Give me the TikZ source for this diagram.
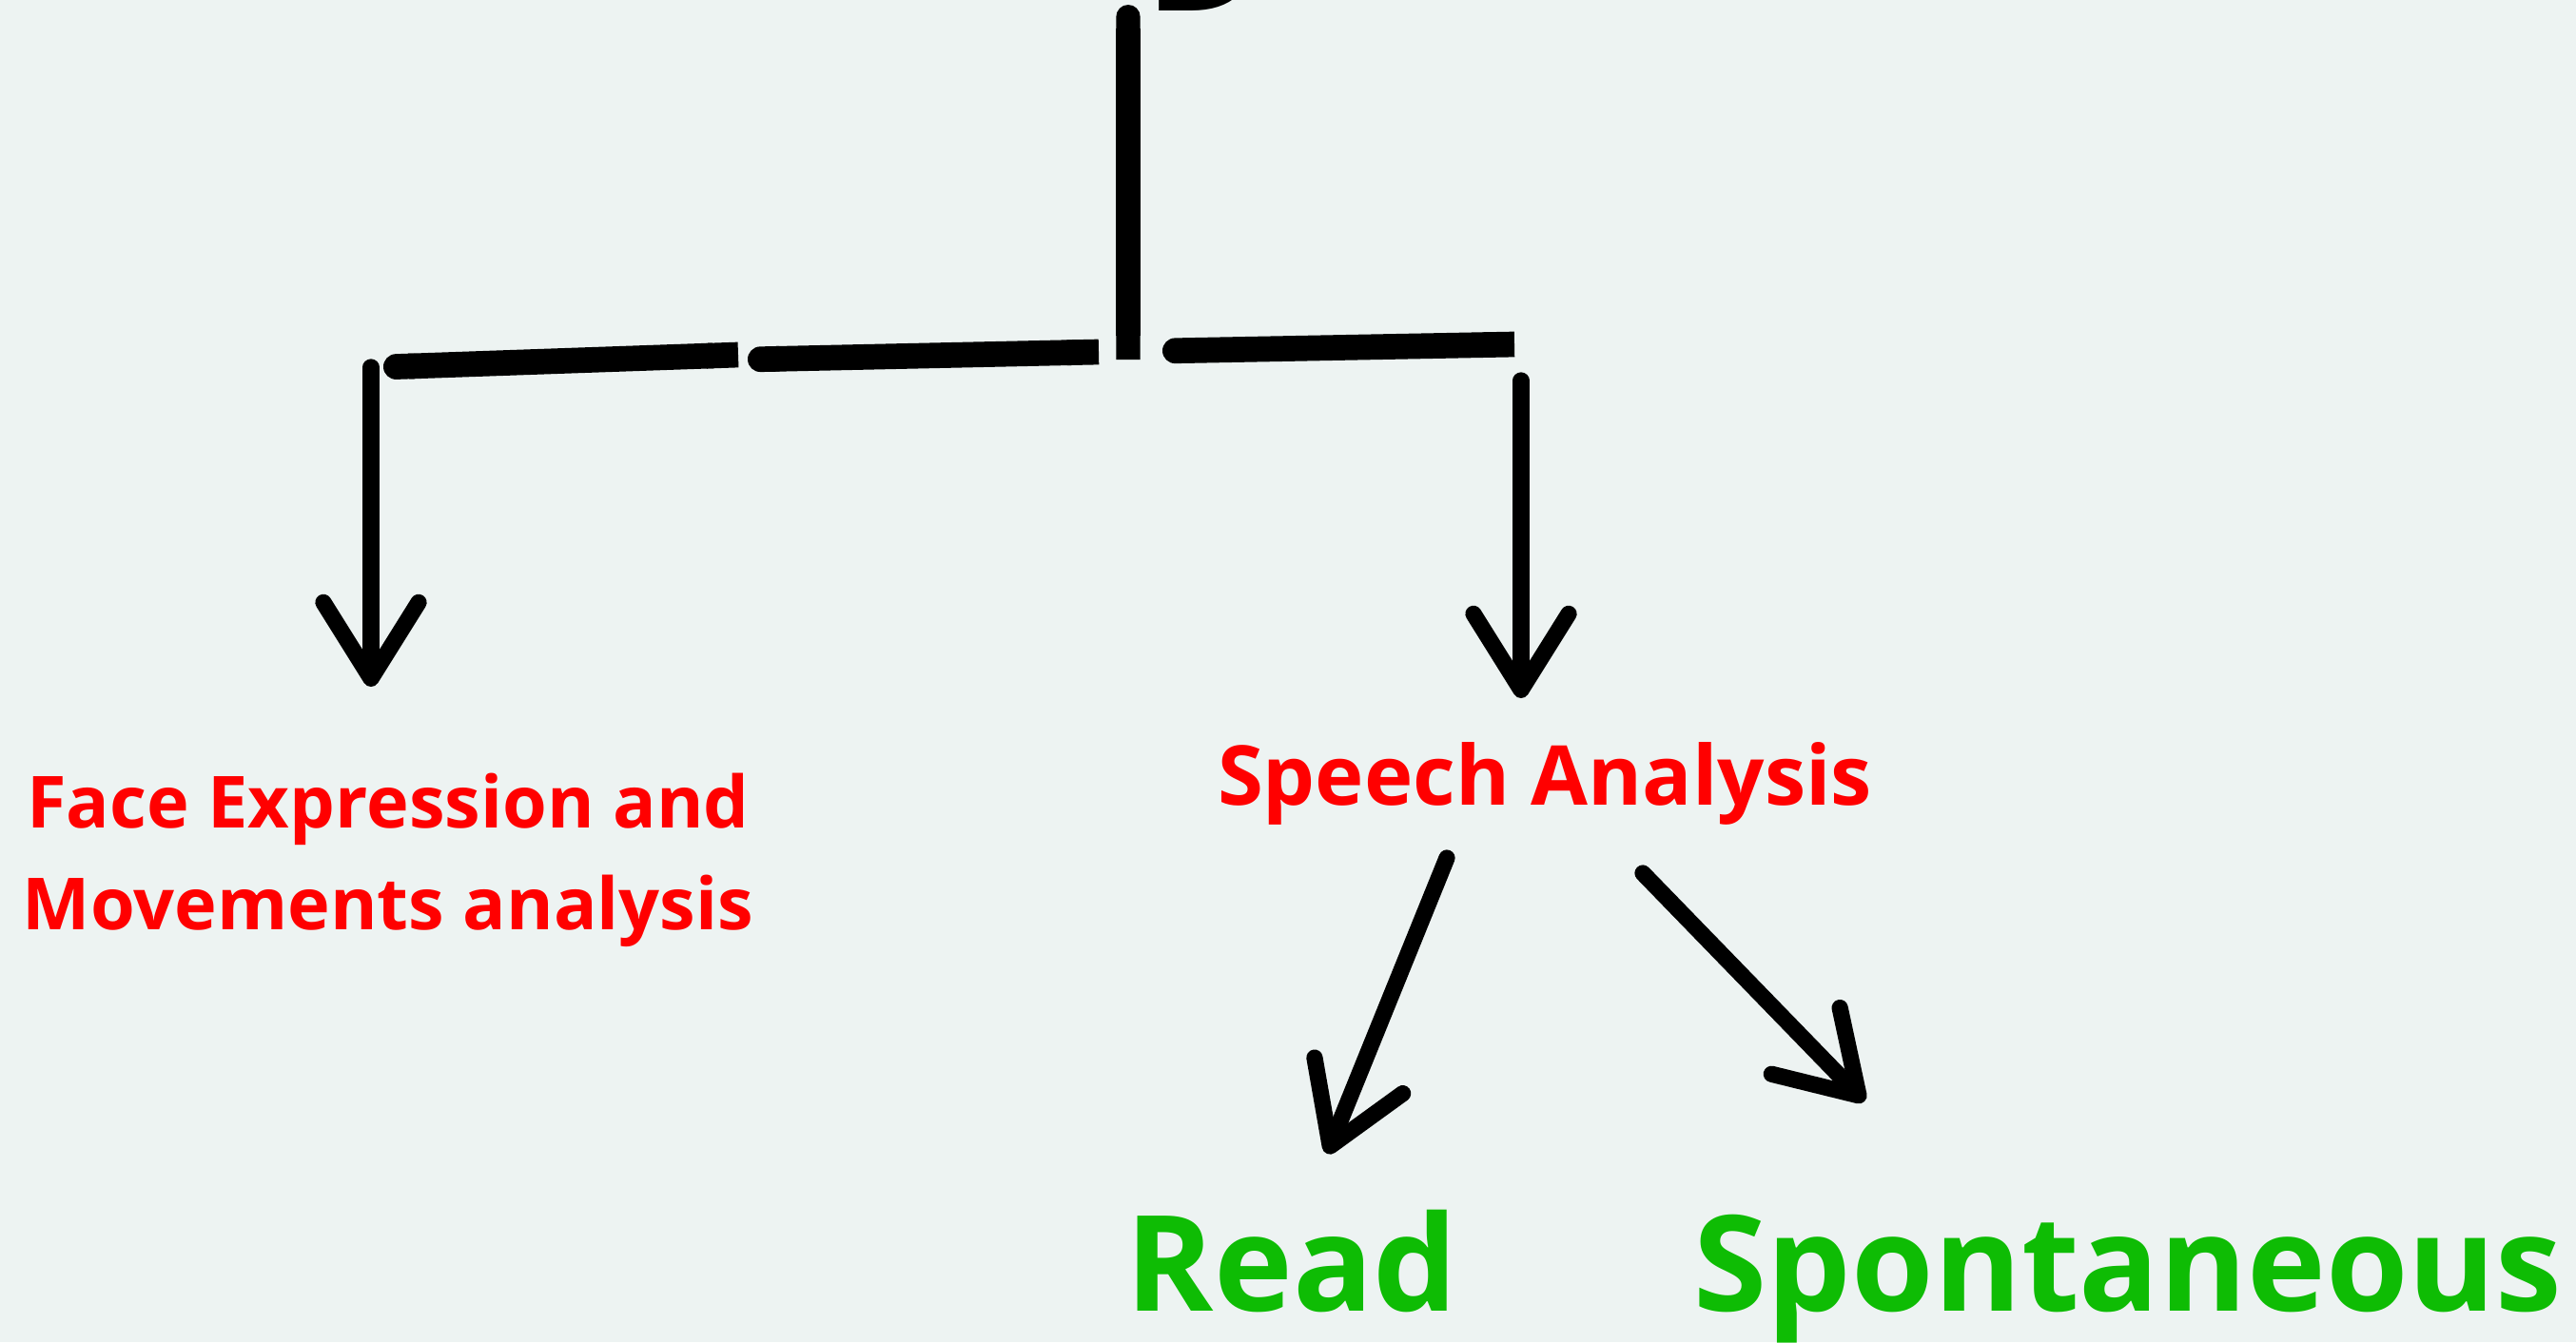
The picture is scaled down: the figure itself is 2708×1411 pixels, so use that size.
\documentclass[tikz,border=0pt]{standalone}
\usepackage{fontspec}
\usetikzlibrary{arrows.meta}
\newfontfamily\labelfont{Open Sans}
\definecolor{paper}{RGB}{237,243,242}
\definecolor{labelred}{RGB}{255,0,0}
\definecolor{labelgreen}{RGB}{14,188,4}

\begin{document}
\begin{tikzpicture}[x=0.01cm, y=-0.01cm,
  bar/.style={line width=7.6pt, {Round Cap[]}-{Butt Cap[]}},
  pointer/.style={line width=4.9pt, line cap=round,
    -{Straight Barb[length=0.8cm, width=1.0cm, line join=round, line cap=round]}},
  redlabel/.style={text=labelred, inner sep=0pt, anchor=base,
    font=\labelfont\bfseries\fontsize{#1}{30.4pt}\selectfont},
  greenlabel/.style={text=labelgreen, inner sep=0pt, anchor=base,
    font=\labelfont\bfseries\fontsize{39.8pt}{48pt}\selectfont}]

  \useasboundingbox (0,0) rectangle (2708,1411);
  \fill[paper] (0,0) rectangle (2708,1411);
  \clip (0,0) rectangle (2708,1411);

  % title, cut off by the top edge
  \node[anchor=base west, inner sep=0pt,
    font=\labelfont\bfseries\fontsize{48pt}{58pt}\selectfont] (title) at (1203,11) {D};

  % stem and the split bar
  \coordinate (stemtop) at (1186,5);
  \coordinate (stembot) at (1186,378);
  \draw[line width=7.2pt, {Butt Cap[]}-{Round Cap[]}] (stembot) -- (stemtop);

  \coordinate (bar1a) at (403,386);
  \coordinate (bar1b) at (776,373);
  \coordinate (bar2a) at (786,378);
  \coordinate (bar2b) at (1155,370);
  \coordinate (bar3a) at (1222,369);
  \coordinate (bar3b) at (1592,362);
  \draw[bar] (bar1a) -- (bar1b);
  \draw[bar] (bar2a) -- (bar2b);
  \draw[bar] (bar3a) -- (bar3b);

  % labels
  \node[redlabel=21.5pt, align=center] (face) at (408,977) {Face Expression and\\Movements analysis};
  \node[redlabel=24.7pt] (speech) at (1624,846) {Speech Analysis};
  \node[greenlabel] (read) at (1358,1378) {Read};
  \node[greenlabel] (spont) at (2237,1378) {Spontaneous};

  % arrows
  \coordinate (lefttop) at (390,386);
  \coordinate (lefttip) at (390,722);
  \coordinate (righttop) at (1599,400);
  \coordinate (righttip) at (1599,734);
  \coordinate (readtop) at (1521,902);
  \coordinate (readtip) at (1395,1213);
  \coordinate (sponttop) at (1727,918);
  \coordinate (sponttip) at (1960,1158);
  \draw[pointer] (lefttop) -- (lefttip);
  \draw[pointer] (righttop) -- (righttip);
  \draw[pointer] (readtop) -- (readtip);
  \draw[pointer] (sponttop) -- (sponttip);

\end{tikzpicture}
\end{document}
